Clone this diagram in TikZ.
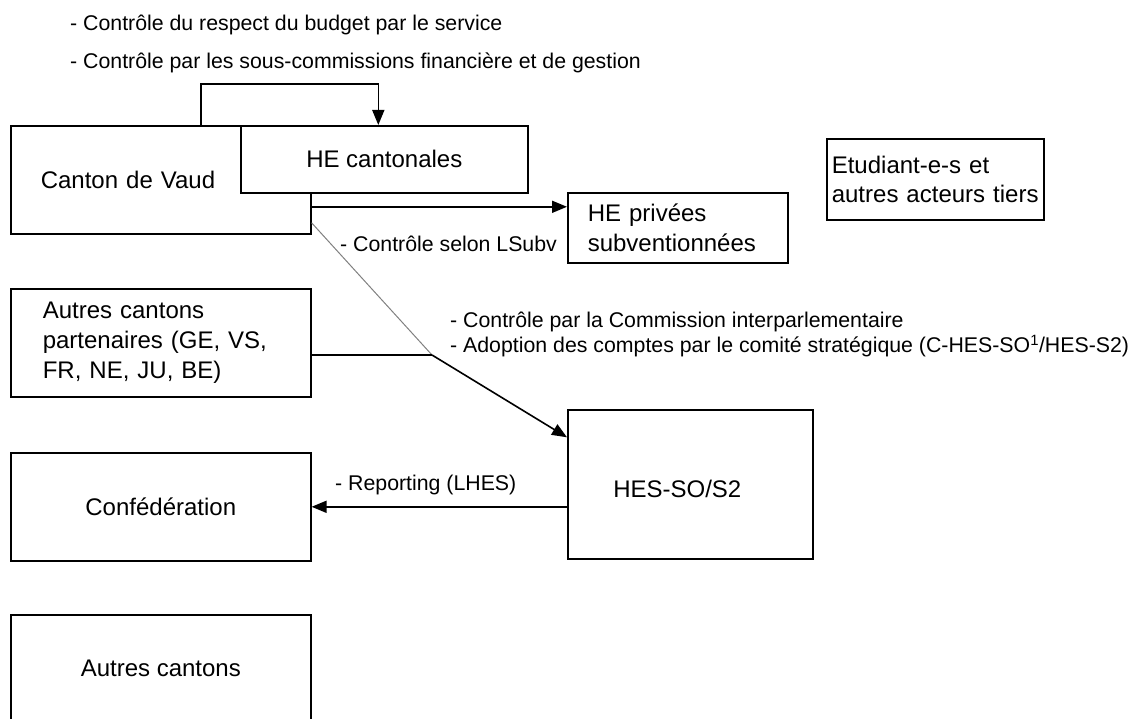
\documentclass[tikz,border=0pt]{standalone}
\usepackage{fontspec}
\setmainfont{Liberation Sans}
\usetikzlibrary{arrows.meta}

\begin{document}
\begin{tikzpicture}[x=1pt,y=-1pt,
		box/.style={draw,line width=1.6pt,fill=white,inner sep=0pt,font=\fontsize{24}{30}\selectfont},
		lbox/.style={box,align=left},
		lbl/.style={anchor=west,inner sep=0pt,font=\fontsize{21.3}{22}\selectfont},
		conn/.style={line width=1.6pt},
		arr/.style={conn,-{Triangle[length=15pt,width=12pt]}}]
		\clip (0,0) rectangle (1138,719);
		% boxes
		\node[lbox,anchor=north west,minimum width=300pt,minimum height=108pt,text width=240pt,inner xsep=30pt] (vaud) at (10,125) {Canton de Vaud\\[6pt]};
		\node[box,anchor=north west,minimum width=287pt,minimum height=67pt] (hecant) at (240,125) {HE cantonales};
		\node[lbox,anchor=north west,minimum width=220pt,minimum height=70pt,text width=180pt,inner xsep=20pt] (privees) at (567,192) {HE privées\\subventionnées};
		\node[lbox,anchor=north west,minimum width=217pt,minimum height=81pt,text width=207pt,inner xsep=5pt,font=\fontsize{24}{29}\selectfont] (tiers) at (826,138) {Etudiant-e-s et\\autres acteurs tiers};
		\node[lbox,anchor=north west,minimum width=300pt,minimum height=108pt,text width=236pt,inner xsep=32pt] (partenaires) at (10,288) {Autres cantons\\partenaires (GE, VS,\\FR, NE, JU, BE)};
		\node[box,anchor=north west,minimum width=300pt,minimum height=108pt] (conf) at (10,452) {Confédération};
		\node[box,anchor=north west,minimum width=300pt,minimum height=108pt] (autres) at (10,614) {Autres cantons};
		\node[box,anchor=north west,minimum width=245pt,minimum height=149pt] (hesso) at (567,409) {};
		\node[font=\fontsize{24}{30}\selectfont] (hessotxt) at ([xshift=-13pt,yshift=-5pt]hesso.center) {HES-SO/S2};
		% labels
		\node[lbl] (budget) at (70,25) {- Contrôle du respect du budget par le service};
		\node[lbl] (souscom) at (70,63) {- Contrôle par les sous-commissions financière et de gestion};
		\node[lbl] (lsubv) at (340,244) {- Contrôle selon LSubv};
		\node[lbl] (cip) at (450,322) {- Contrôle par la Commission interparlementaire};
		\node[lbl] (comptes) at (450,346) {- Adoption des comptes par le comité stratégique (C-HES-SO\textsuperscript{1}/HES-S2)};
		\node[lbl] (report) at (335,485) {- Reporting (LHES)};
		% connectors
		\coordinate (loop) at (201,84);
		\coordinate (junction) at (432,355);
		\draw[arr] (vaud.north -| loop) -- (loop) -| ([xshift=-6pt]hecant.north);
		\draw[arr] ([yshift=-27pt]vaud.east) -- ([yshift=-27pt]vaud.east -| privees.west);
		\draw[gray,line width=1pt] ([yshift=-43pt]vaud.east) -- (junction);
		\draw[conn] (partenaires.east |- junction) -- (junction);
		\draw[arr] (junction) -- ([yshift=47pt]hesso.west);
		\draw[arr] (hesso.west |- conf.east) -- (conf.east);
		\end{tikzpicture}
\end{document}
